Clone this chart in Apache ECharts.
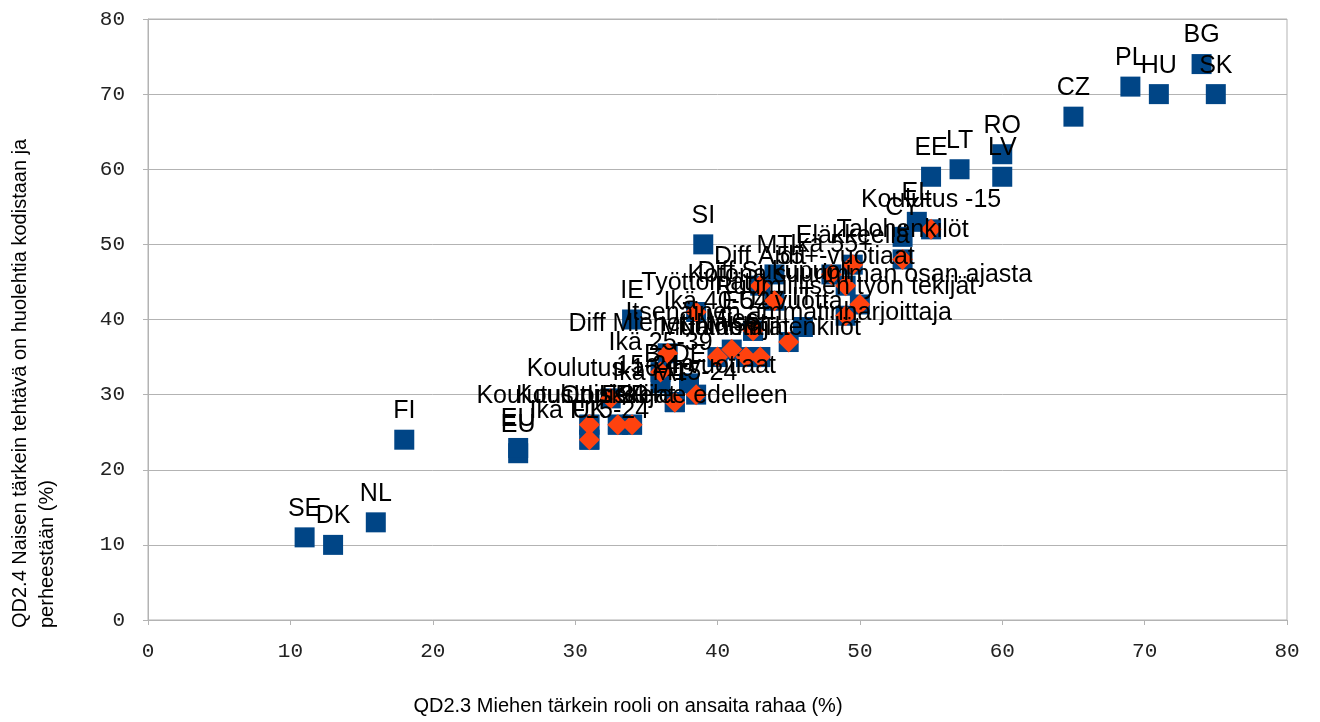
<!DOCTYPE html>
<html>
<head>
<meta charset="utf-8">
<script src="https://cdn.jsdelivr.net/npm/echarts@6/dist/echarts.min.js"></script>
<style>
html,body{margin:0;padding:0;background:#fff;}
#chart{width:1320px;height:722px;}
</style>
</head>
<body>
<div id="chart"></div>
<script>
// Countries (blue squares)
const countryNames = ["SE","DK","NL","FI","EU","EU","IE","SI","BE","DE","LU","UK","ES","FR","AT","PT","IT","EU27","MT","CY","EL","EE","LT","LV","RO","CZ","PL","HU","BG","SK"];
const countryX = [11,13,16,18,26,26,34,39,36,38,31,31,33,34,37,43,46,42.5,44,53,54,55,57,60,60,65,69,71,74,75];
const countryY = [11,10,13,24,22.2,22.9,40,50,31.5,31.5,26,24,26,26,29,35,39,38.5,46,51,53,59,60,59,62,67,71,70,74,70];

// Socio-demographic groups (orange diamonds drawn over blue squares)
const groupNames = ["Koulutus -15","Talohenkilöt","Eläkkeellä","Ikä 55+","Diff Aidit","55+-vuotiaat","Diff Sukupuoli","Kotona suurimman osan ajasta","Ruumiillisen työn tekijät","Työttömät","Ikä 40-54 vuotta","Diff Miehet-Naiset","Nainen","Mies","Muut toimihenkilöt","Itsenäinen ammatinharjoittaja","Ikä 25-39","15-24-vuotiaat","Koulutus 16-19","Koulutus opiskelee edelleen","Opiskelijat","Ikä F15-24","Koulutus 20+","Ikä M15-24","Johtajat"];
const groupX = [55,53,49.5,48,43,49,44,50,49,38.5,42.5,36.5,40,41,43,45,36,38.5,32.5,34,33,31,31,37,42];
const groupY = [52,48,47.3,46,44.5,44.5,42.5,42,40.5,41,38.5,35.5,35,36,35,37,33,30,29.5,26,26,24,26,29,35];

const ticks = [0,10,20,30,40,50,60,70,80];

function build(names, xs, ys){
  return names.map((n,i)=>({name:n, value:[xs[i], ys[i]]}));
}

const chart = echarts.init(document.getElementById('chart'), null, {renderer:'canvas'});
const labelStyle = {
  show:true, position:'top', distance:6, formatter:'{b}',
  fontFamily:'Liberation Sans', fontSize:25, color:'#000'
};
chart.setOption({
  animation:false,
  backgroundColor:'#fff',
  grid:{left:148, right:33, top:19, bottom:102, show:true, borderColor:'#b3b3b3', borderWidth:1},
  xAxis:{
    type:'value', min:0, max:80, interval:10,
    axisLine:{show:true, onZero:false, lineStyle:{color:'#b3b3b3'}},
    axisTick:{show:true, length:5, lineStyle:{color:'#b3b3b3'}},
    splitLine:{show:false},
    axisLabel:{margin:21, fontFamily:'Liberation Mono', fontSize:21, color:'#222',
      formatter:v=>ticks.includes(v)?String(v):''}
  },
  yAxis:{
    type:'value', min:0, max:80, interval:10,
    axisLine:{show:true, onZero:false, lineStyle:{color:'#b3b3b3'}},
    axisTick:{show:true, length:5, lineStyle:{color:'#b3b3b3'}},
    splitLine:{show:true, lineStyle:{color:'#b3b3b3'}},
    axisLabel:{margin:23, fontFamily:'Liberation Mono', fontSize:21, color:'#222',
      formatter:v=>ticks.includes(v)?String(v):''}
  },
  graphic:[
    {type:'text', x:628, y:706, style:{text:'QD2.3 Miehen tärkein rooli on ansaita rahaa (%)', fontFamily:'Liberation Sans', fontSize:20, fill:'#000', textAlign:'center', textVerticalAlign:'middle'}},
    {type:'text', x:34, y:628, rotation:Math.PI/2, style:{text:'QD2.4 Naisen tärkein tehtävä on huolehtia kodistaan ja\nperheestään (%)', fontFamily:'Liberation Sans', fontSize:20, lineHeight:27, fill:'#000', textAlign:'left', textVerticalAlign:'middle'}}
  ],
  series:[
    {type:'scatter', name:'Maat', symbol:'rect', symbolSize:20, itemStyle:{color:'#004586', opacity:1}, label:labelStyle, data:build(countryNames,countryX,countryY), z:2},
    {type:'scatter', name:'Ryhmät tausta', symbol:'rect', symbolSize:20, itemStyle:{color:'#004586', opacity:1}, label:{show:false}, silent:true, data:build(groupNames,groupX,groupY), z:2},
    {type:'scatter', name:'Ryhmät', symbol:'diamond', symbolSize:21, itemStyle:{color:'#ff420e', opacity:1}, label:labelStyle, data:build(groupNames,groupX,groupY), z:3}
  ]
});
</script>
</body>
</html>
